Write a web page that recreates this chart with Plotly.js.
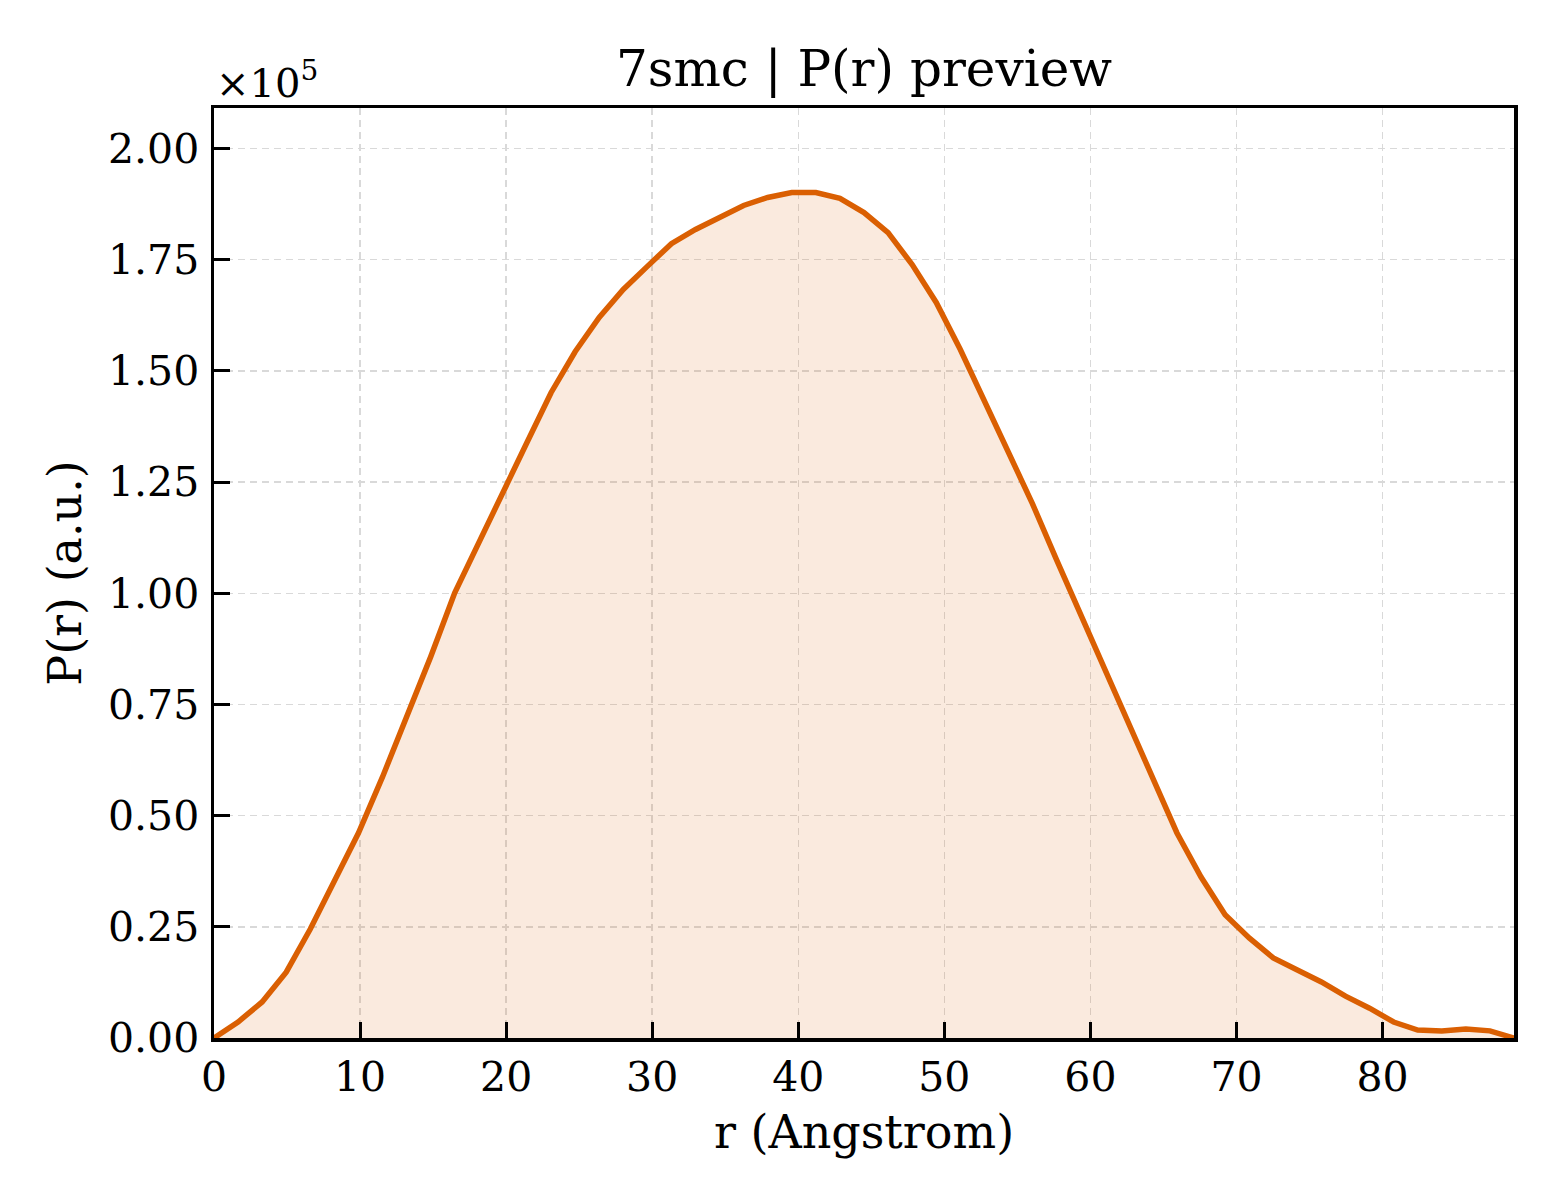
<!DOCTYPE html>
<html>
<head>
<meta charset="utf-8">
<script src="https://cdn.plot.ly/plotly-3.0.1.min.js"></script>
<style>
  html, body { margin: 0; padding: 0; background: #ffffff; }
  #chart { width: 1560px; height: 1200px; }
</style>
</head>
<body>
<div id="chart"></div>
<script>
// r values (Angstrom), evenly sampled from 0 to Dmax = 89
const rValues = [
  0.000, 1.648, 3.296, 4.944, 6.593, 8.241, 9.889, 11.537, 13.185, 14.833,
  16.481, 18.130, 19.778, 21.426, 23.074, 24.722, 26.370, 28.019, 29.667, 31.315,
  32.963, 34.611, 36.259, 37.907, 39.556, 41.204, 42.852, 44.500, 46.148, 47.796,
  49.444, 51.093, 52.741, 54.389, 56.037, 57.685, 59.333, 60.981, 62.630, 64.278,
  65.926, 67.574, 69.222, 70.870, 72.519, 74.167, 75.815, 77.463, 79.111, 80.759,
  82.407, 84.056, 85.704, 87.352, 89.000
];
// P(r) values (a.u.)
const prValues = [
  0, 3600, 8100, 14800, 24500, 35100, 46100, 58700, 72200, 85700,
  100100, 111600, 123100, 133900, 145100, 154300, 162000, 168300, 173500, 178600,
  181800, 184500, 187200, 189000, 190100, 190100, 188800, 185600, 181100, 173900,
  165400, 154800, 143300, 131900, 120100, 107500, 95100, 82600, 70500, 58300,
  46100, 36200, 27700, 22500, 18000, 15300, 12600, 9400, 6700, 3600,
  1800, 1600, 2000, 1600, 0
];
const xTickVals = [0, 10, 20, 30, 40, 50, 60, 70, 80];
const yTickVals = [0, 25000, 50000, 75000, 100000, 125000, 150000, 175000, 200000];
const yTickText = ['0.00', '0.25', '0.50', '0.75', '1.00', '1.25', '1.50', '1.75', '2.00'];

const lineColor = '#DA5F02';
const serif = 'DejaVu Serif, serif';

const yMax = Math.max(...prValues) * 1.1;

const trace = {
  x: rValues,
  y: prValues,
  type: 'scatter',
  mode: 'lines',
  line: { color: lineColor, width: 5.5 },
  fill: 'tozeroy',
  fillcolor: 'rgba(218,95,2,0.13)',
  hoverinfo: 'x+y',
  showlegend: false
};

const axisCommon = {
  showline: true,
  linecolor: '#000000',
  linewidth: 3.5,
  mirror: true,
  ticks: 'inside',
  ticklen: 16,
  tickwidth: 3,
  tickcolor: '#000000',
  showgrid: true,
  gridcolor: '#d9d9d9',
  gridwidth: 1.5,
  griddash: '7px,5px',
  zeroline: false,
  tickfont: { family: serif, size: 41, color: '#000000' }
};

const layout = {
  width: 1560,
  height: 1200,
  paper_bgcolor: '#ffffff',
  plot_bgcolor: '#ffffff',
  margin: { l: 214, r: 46, t: 108, b: 162, pad: 0 },
  title: {
    text: '7smc | P(r) preview',
    font: { family: serif, size: 50, color: '#000000' },
    x: 0.5, xref: 'paper', xanchor: 'center',
    y: 1 - 68 / 1200, yref: 'container', yanchor: 'middle'
  },
  xaxis: Object.assign({}, axisCommon, {
    range: [0, 89],
    tickmode: 'array',
    tickvals: xTickVals,
    ticklabelstandoff: 0,
    title: { text: 'r (Angstrom)', font: { family: serif, size: 46, color: '#000000' }, standoff: 17 }
  }),
  yaxis: Object.assign({}, axisCommon, {
    range: [0, yMax],
    tickmode: 'array',
    tickvals: yTickVals,
    ticktext: yTickText,
    ticklabelstandoff: 3,
    title: { text: 'P(r) (a.u.)', font: { family: serif, size: 46, color: '#000000' }, standoff: 13 }
  }),
  annotations: [{
    text: '×10<sup>5</sup>',
    xref: 'paper', yref: 'paper',
    x: 0, y: 1 + 28 / 930,
    xanchor: 'left', yanchor: 'middle',
    showarrow: false,
    font: { family: serif, size: 40, color: '#000000' }
  }]
};

Plotly.newPlot('chart', [trace], layout, { displayModeBar: false, staticPlot: true });
</script>
</body>
</html>
